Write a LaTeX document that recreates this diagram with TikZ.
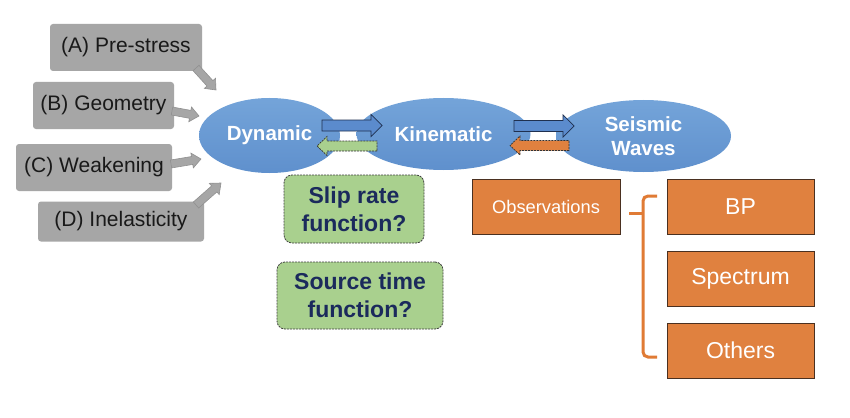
\documentclass[tikz,border=0pt]{standalone}
\usepackage{fontspec}
\setmainfont{Liberation Sans}
\usetikzlibrary{calc,shapes.geometric}
\definecolor{grayb}{HTML}{A6A6A6}
\definecolor{grayline}{HTML}{909090}
\definecolor{elltop}{HTML}{74A4D9}
\definecolor{ellbot}{HTML}{5F90CD}
\definecolor{arrblue}{HTML}{5B8BCD}
\definecolor{arrline}{HTML}{1F3050}
\definecolor{greenb}{HTML}{A9D08E}
\definecolor{navy}{HTML}{1B2A5C}
\definecolor{orangeb}{HTML}{E0813F}
\definecolor{orangeline}{HTML}{4A3020}
\definecolor{brace}{HTML}{E07B35}
\newcommand{\blockarr}[6]{%
  \coordinate (ba-h) at ($(#3)!#6!(#2)$);
  \draw[#1] ($(#2)!#4!90:(#3)$) -- ($(ba-h)!#4!-90:(#2)$) -- ($(ba-h)!#5!-90:(#2)$)
    -- (#3) -- ($(ba-h)!#5!90:(#2)$) -- ($(ba-h)!#4!90:(#2)$) -- ($(#2)!#4!-90:(#3)$) -- cycle;
}
\tikzset{
  graybox/.style={rectangle, rounded corners=3pt, fill=grayb, draw=none, inner sep=0pt,
    font=\fontsize{21}{25}\selectfont, text=black!90},
  ellbox/.style={ellipse, inner sep=0pt, top color=elltop, bottom color=ellbot, draw=none,
    text=white, font=\bfseries\fontsize{20.5}{24}\selectfont, align=center},
  greenbox/.style={rectangle, rounded corners=8pt, fill=greenb, draw=black!75, line width=0.8pt,
    dash pattern=on 2pt off 1pt, inner sep=0pt, text=navy,
    font=\bfseries\fontsize{23}{28}\selectfont, align=center},
  orangebox/.style={rectangle, fill=orangeb, draw=orangeline, line width=0.8pt, inner sep=0pt,
    text=white, font=\fontsize{23}{27}\selectfont},
  grayarr/.style={fill=grayb, draw=grayline, line width=0.6pt},
  bluearr/.style={fill=arrblue, draw=arrline, line width=0.7pt},
  greenarr/.style={fill=greenb, draw=black!80, line width=0.7pt, dash pattern=on 2pt off 1pt},
  orangearr/.style={fill=orangeb, draw=black!80, line width=0.7pt, dash pattern=on 2pt off 1pt},
}
\begin{document}
\begin{tikzpicture}[x=1pt,y=-1pt]
\useasboundingbox[fill=white] (0,0) rectangle (850,417);

% gray input boxes
\node[graybox, minimum width=152, minimum height=47] (A) at (126,47.5) {(A) Pre-stress};
\node[graybox, minimum width=141, minimum height=47] (B) at (103.5,105.5) {(B) Geometry};
\node[graybox, minimum width=156, minimum height=47] (C) at (94,167.5) {(C) Weakening};
\node[graybox, minimum width=166, minimum height=40] (D) at (121,221.5) {(D) Inelasticity};

% ellipses
\node[ellbox, minimum width=141, minimum height=75] (dyn) at (269.5,135.5) {Dynamic};
\node[ellbox, minimum width=174, minimum height=72] (kin) at (443.5,134) {Kinematic};
\node[ellbox, minimum width=175, minimum height=72] (sw) at (643.5,136) {Seismic\\Waves};

% gray arrows into Dynamic
\coordinate (a1) at (196,68);  \coordinate (a2) at (216,90);
\coordinate (b1) at (172,111); \coordinate (b2) at (199,116);
\coordinate (c1) at (171,164); \coordinate (c2) at (201,159);
\coordinate (d1) at (196,205); \coordinate (d2) at (221,183);
\blockarr{grayarr}{a1}{a2}{4pt}{7.5pt}{9pt}
\blockarr{grayarr}{b1}{b2}{4pt}{7.5pt}{9pt}
\blockarr{grayarr}{c1}{c2}{4pt}{7.5pt}{9pt}
\blockarr{grayarr}{d1}{d2}{4pt}{7.5pt}{9pt}

% arrows between Dynamic and Kinematic
\coordinate (dk1) at (322,125.5); \coordinate (dk2) at (382,125.5);
\coordinate (kd1) at (377,146);   \coordinate (kd2) at (317,146);
\blockarr{bluearr}{dk1}{dk2}{5.5pt}{11pt}{11pt}
\blockarr{greenarr}{kd1}{kd2}{5pt}{9.5pt}{10pt}

% arrows between Kinematic and Seismic Waves
\coordinate (ks1) at (514,126); \coordinate (ks2) at (574,126);
\coordinate (sk1) at (569,145.5); \coordinate (sk2) at (510,145.5);
\blockarr{bluearr}{ks1}{ks2}{5.5pt}{11pt}{11pt}
\blockarr{orangearr}{sk1}{sk2}{5pt}{9.5pt}{10pt}

% green question boxes
\node[greenbox, minimum width=140, minimum height=68] (slip) at (354,209) {Slip rate\\function?};
\node[greenbox, minimum width=166, minimum height=67] (stf) at (360,295.5) {Source time\\function?};

% observation boxes
\node[orangebox, minimum width=148, minimum height=55, font=\fontsize{18.3}{22}\selectfont] (obs) at (546,206.5) {Observations};
\node[orangebox, minimum width=147, minimum height=55] (bp) at (740.5,206.5) {BP};
\node[orangebox, minimum width=147, minimum height=55] (spec) at (740.5,278.5) {Spectrum};
\node[orangebox, minimum width=147, minimum height=55] (oth) at (740.5,350.5) {Others};

% brace
\coordinate (brt) at (657,196);
\coordinate (brb) at (657,357);
\coordinate (brm) at (629,213);
\draw[brace, line width=3pt, rounded corners=5pt] (brt) -- (643,196) -- (643,357) -- (brb);
\draw[brace, line width=3pt] (brm) -- (643,213);
\end{tikzpicture}
\end{document}
